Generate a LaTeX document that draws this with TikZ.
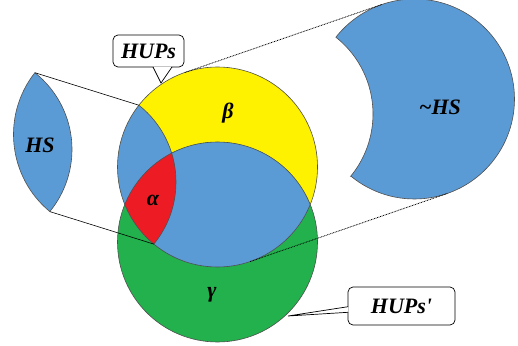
\documentclass[tikz,border=0pt]{standalone}
\usepackage{fontspec}
\setmainfont{Liberation Serif}[Ligatures=TeXOff]
\definecolor{hsblue}{HTML}{5B9BD5}
\definecolor{hyel}{HTML}{FFF200}
\definecolor{hred}{HTML}{ED1C24}
\definecolor{hgreen}{HTML}{22B14C}
\definecolor{edgegray}{HTML}{505050}
\begin{document}
\begin{tikzpicture}[x=1pt,y=1pt,
  lbl/.style={font=\fontsize{22}{24}\selectfont\bfseries\itshape, inner sep=0pt},
  outline/.style={draw=edgegray, line width=0.6pt},
  callbox/.style={draw=black, line width=0.7pt, fill=white, rounded corners=5pt,
                  inner sep=0pt, font=\fontsize{22}{24}\selectfont\bfseries\itshape},
  pointer/.style={draw=black, line width=0.7pt},
  joinline/.style={draw=black, line width=0.6pt},
  tangentline/.style={draw=black, line width=0.8pt, dash pattern=on 0.8pt off 0.8pt}]
\useasboundingbox (0,0) rectangle (518,345);
\def\Ycirc{(217.5,178) circle (100pt)}
\def\Gcirc{(217.5,103) circle (100pt)}
\def\Hcirc{(78,163) circle (98pt)}

% main diagram
\fill[hyel] \Ycirc;
\fill[hgreen] \Gcirc;
\begin{scope}
  \clip \Ycirc;
  \fill[hsblue] \Gcirc;
  \fill[hsblue] \Hcirc;
  \clip \Gcirc;
  \fill[hred] \Hcirc;
\end{scope}
\draw[outline] \Ycirc;
\draw[outline] \Gcirc;
\begin{scope}
  \clip \Ycirc;
  \draw[outline] \Hcirc;
\end{scope}

% HS lens (copy on the left)
\begin{scope}[shift={(-104,32.5)}]
  \fill[hsblue, outline] (138.87,239.79) arc[start angle=141.84, end angle=230.44, radius=100pt]
     arc[start angle=-39.32, end angle=51.59, radius=98pt] -- cycle;
\end{scope}

% ~HS (copy on the right)
\begin{scope}[shift={(197,68)}]
  \fill[hsblue, outline] (153.81,100.91) arc[start angle=230.44, end angle=501.84, radius=100pt]
     arc[start angle=51.59, end angle=-39.32, radius=98pt] -- cycle;
\end{scope}

% connectors
\coordinate (p1) at (138.87,239.79);
\coordinate (p2) at (153.81,100.91);
\coordinate (l1) at (34.87,272.29);
\coordinate (l2) at (49.81,133.41);
\coordinate (t1) at (184.87,272.53);
\coordinate (t2) at (250.13,83.47);
\coordinate (u1) at (381.87,340.53);
\coordinate (u2) at (447.13,151.47);
\draw[joinline] (l1) -- (p1);
\draw[joinline] (l2) -- (p2);
\draw[tangentline] (t1) -- (u1);
\draw[tangentline] (t2) -- (u2);

% labels
\node[lbl] (hs) at (40,200) {HS};
\node[lbl] (noths) at (440,238) {\char"007E HS};
\node[lbl] (alpha) at (153,145) {α};
\node[lbl] (beta) at (228,232) {β};
\node[lbl] (gamma) at (212,50) {γ};

% callout HUPs
\node[callbox, minimum width=71pt, minimum height=32pt] (hups) at (148.5,294) {HUPs};
\coordinate (hb1) at (153,278);
\coordinate (hb2) at (172,278);
\coordinate (htip) at (161,262);
\fill[white] (153.4,278.45) -- (htip) -- (171.6,278.45) -- cycle;
\draw[pointer] (hb1) -- (htip) -- (hb2);

% callout HUPs'
\node[callbox, minimum width=107pt, minimum height=38pt] (hupsp) at (401.5,39) {HUPs\char"0027};
\coordinate (kb1) at (348,38.3);
\coordinate (kb2) at (348,32.7);
\coordinate (ktip) at (288,29);
\fill[white] (348.45,38.0) -- (ktip) -- (348.45,33.0) -- cycle;
\draw[pointer] (kb1) -- (ktip) -- (kb2);
\end{tikzpicture}
\end{document}
